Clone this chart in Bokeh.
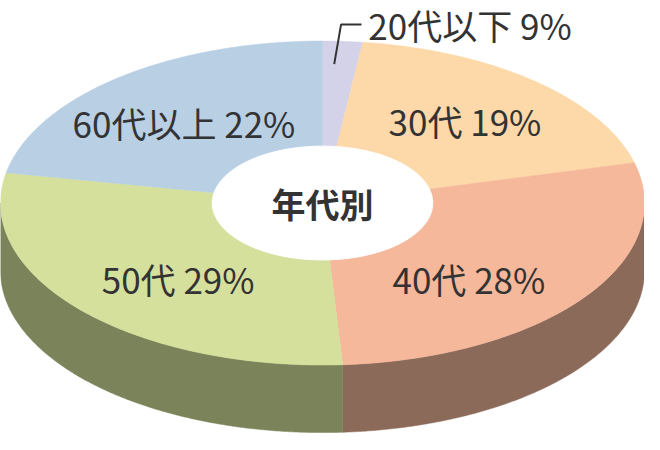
import numpy as np
from bokeh.plotting import figure
from bokeh.models import Range1d, ColumnDataSource
from bokeh.embed import file_html
from bokeh.resources import INLINE
from bokeh.core.properties import value

# ---- data ----
groups = ["20代以下", "30代", "40代", "50代", "60代以上"]
shares = [2, 19, 28, 29, 22]          # slice sizes as drawn
pct_labels = ["9%", "19%", "28%", "29%", "22%"]   # label texts as printed
center_title = "年代別"

# ---- styles ----
top_colors = ["#d4d2e8", "#fdd9a9", "#f6b89b", "#d5e09c", "#b8cfe4"]
side_colors = ["#8a86a0", "#a38b6a", "#8c6a5a", "#7a8359", "#6f8499"]
FONT = "Noto Sans CJK JP"

W, H = 660, 450
CX, CY, A, B, DEPTH = 330, 210, 330, 168, 70
HA, HB = 113, 59

# label anchor layout (image pixel space)
label_x = [377, 476, 480, 182, 188]
label_y = [25, 124, 288, 288, 126]
label_align = ["left", "center", "center", "center", "center"]
leader_x = [342, 349, 370]
leader_y = [66, 25, 25]

p = figure(width=644, height=434, x_range=Range1d(0, W), y_range=Range1d(H, 0),
           output_backend="svg", toolbar_location=None, min_border=0)
p.axis.visible = False
p.grid.visible = False
p.outline_line_color = None
p.background_fill_color = "white"
p.border_fill_color = "white"


def pt(t, a=A, b=B, dy=0.0):
    return CX + a * np.sin(t), CY - b * np.cos(t) + dy


cum = np.cumsum([0] + shares)
angles = cum / cum[-1] * 2 * np.pi

# sides (only front half visible)
side_xs, side_ys, side_cols = [], [], []
for i in range(len(shares)):
    t0, t1 = angles[i], angles[i + 1]
    s0, s1 = max(t0, np.pi / 2), min(t1, 1.5 * np.pi)
    if s1 > s0:
        t = np.linspace(s0, s1, 200)
        x, y = pt(t)
        side_xs.append(list(np.concatenate([x, x[::-1]])))
        side_ys.append(list(np.concatenate([y, y[::-1] + DEPTH])))
        side_cols.append(side_colors[i])
p.patches(xs=side_xs, ys=side_ys, fill_color=side_cols, line_color=side_cols, line_width=0.5)

# tops
top_xs, top_ys = [], []
for i in range(len(shares)):
    t = np.linspace(angles[i], angles[i + 1], 200)
    x, y = pt(t)
    top_xs.append([CX] + list(x))
    top_ys.append([CY] + list(y))
p.patches(xs=top_xs, ys=top_ys, fill_color=top_colors, line_color=top_colors, line_width=0.5)

# hole
th = np.linspace(0, 2 * np.pi, 300)
hx, hy = pt(th, HA, HB)
p.patch(x=list(hx), y=list(hy), fill_color="white", line_color="white")

# center title
p.text(x=[CX], y=[CY], text=[center_title], text_font=value(FONT), text_font_style="bold",
       text_font_size="34px", text_color="#333333", text_align="center", text_baseline="middle")

# labels
src = ColumnDataSource(dict(x=label_x, y=label_y,
                            t=[f"{g} {q}" for g, q in zip(groups, pct_labels)],
                            a=label_align))
p.text(x="x", y="y", text="t", text_align="a", source=src, text_font=value(FONT),
       text_font_size="35px", text_color="#333333", text_baseline="middle")

p.line(x=leader_x, y=leader_y, line_color="#333333", line_width=2)

open("out.html", "w").write(file_html(p, INLINE))
